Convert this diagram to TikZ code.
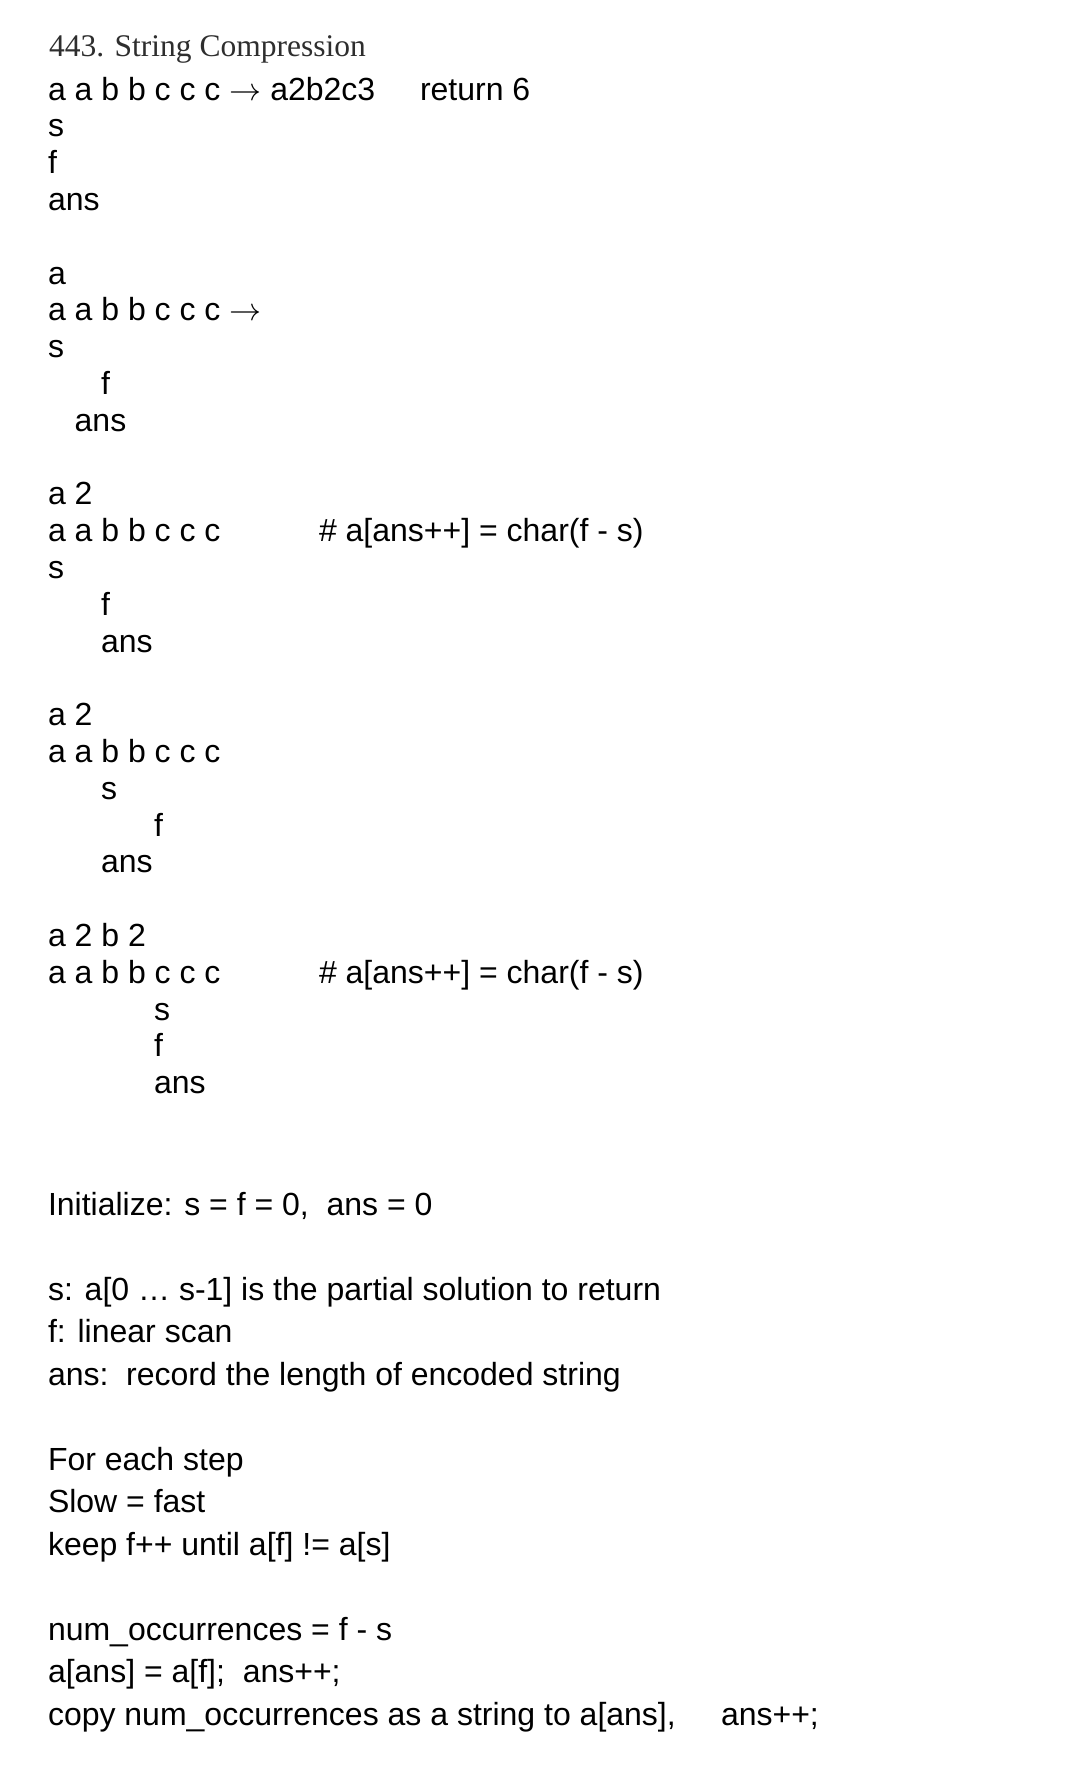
\RequirePackage{fix-cm}
\documentclass[tikz,border=0pt]{standalone}
\usepackage{fontspec}
\setmainfont{Liberation Sans}
\newfontfamily\titlefont{Liberation Serif}
\newcommand{\myarrow}{$\rightarrow$}
\begin{document}
\begin{tikzpicture}[x=1pt,y=-1pt,
  txt/.style={anchor=base west, inner sep=0pt, outer sep=0pt, font=\fontsize{32}{36}\selectfont},
  ttl/.style={anchor=base west, inner sep=0pt, outer sep=0pt, text=black!82, font=\titlefont\fontsize{31.5}{36}\selectfont}]
\fill[white] (0,0) rectangle (1084,1786);
\useasboundingbox (0,0) rectangle (1084,1786);
% title
\node[ttl] (title) at (49,56) {443. String Compression};
% block 1
\node[txt] (b1str) at (48,100) {a a b b c c c \myarrow{} a2b2c3};
\node[txt] (b1ret) at (420,100) {return 6};
\node[txt] (b1s) at (48,136.8) {s};
\node[txt] (b1f) at (48,173.6) {f};
\node[txt] (b1ans) at (48,210.4) {ans};
% block 2
\node[txt] (b2out) at (48,284) {a};
\node[txt] (b2str) at (48,320.8) {a a b b c c c \myarrow};
\node[txt] (b2s) at (48,357.6) {s};
\node[txt] (b2f) at (101,394.4) {f};
\node[txt] (b2ans) at (74.7,431.2) {ans};
% block 3
\node[txt] (b3out) at (48,504.8) {a 2};
\node[txt] (b3str) at (48,541.6) {a a b b c c c};
\node[txt] (b3cmt) at (319,541.6) {\# a[ans++] = char(f - s)};
\node[txt] (b3s) at (48,578.4) {s};
\node[txt] (b3f) at (101,615.2) {f};
\node[txt] (b3ans) at (101,652) {ans};
% block 4
\node[txt] (b4out) at (48,725.6) {a 2};
\node[txt] (b4str) at (48,762.4) {a a b b c c c};
\node[txt] (b4s) at (101,799.2) {s};
\node[txt] (b4f) at (154,836) {f};
\node[txt] (b4ans) at (101,872.8) {ans};
% block 5
\node[txt] (b5out) at (48,946.4) {a 2 b 2};
\node[txt] (b5str) at (48,983.2) {a a b b c c c};
\node[txt] (b5cmt) at (319,983.2) {\# a[ans++] = char(f - s)};
\node[txt] (b5s) at (154,1020) {s};
\node[txt] (b5f) at (154,1056.8) {f};
\node[txt] (b5ans) at (154,1093.6) {ans};
% notes
\node[txt] (init) at (48,1215) {Initialize: s = f = 0,\ \ ans = 0};
\node[txt] (nots) at (48,1300) {s: a[0 … s-1] is the partial solution to return};
\node[txt] (notf) at (48,1342.5) {f: linear scan};
\node[txt] (notans) at (48,1385) {ans:\ \ record the length of encoded string};
\node[txt] (step1) at (48,1470) {For each step};
\node[txt] (step2) at (48,1512.5) {Slow = fast};
\node[txt] (step3) at (48,1555) {keep f++ until a[f] != a[s]};
\node[txt] (num1) at (48,1640) {num\_occurrences = f - s};
\node[txt] (num2) at (48,1682.5) {a[ans] = a[f];\ \ ans++;};
\node[txt] (num3) at (48,1725) {copy num\_occurrences as a string to a[ans],};
\node[txt] (num4) at (721,1725) {ans++;};
\end{tikzpicture}
\end{document}
